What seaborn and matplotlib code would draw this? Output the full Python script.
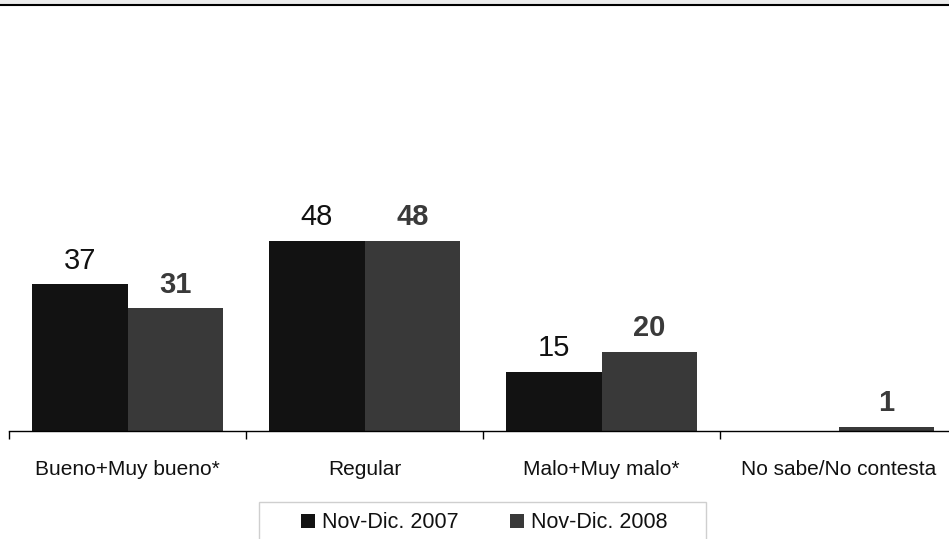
import matplotlib
matplotlib.use("Agg")
import matplotlib.pyplot as plt
import seaborn as sns
import pandas as pd
from matplotlib.patches import Rectangle
from matplotlib.lines import Line2D

categories = ["Bueno+Muy bueno*", "Regular", "Malo+Muy malo*", "No sabe/No contesta"]
series_names = ["Nov-Dic. 2007", "Nov-Dic. 2008"]
values_2007 = [37, 48, 15, 0]
values_2008 = [31, 48, 20, 1]
labels_2007 = ["37", "48", "15", ""]
labels_2008 = ["31", "48", "20", "1"]

colors = ["#121212", "#393939"]

sns.set_theme(style="white")
plt.rcParams["font.family"] = ["Liberation Sans", "DejaVu Sans"]

df = pd.DataFrame({
    "cat": categories * 2,
    "val": values_2007 + values_2008,
    "year": [series_names[0]] * 4 + [series_names[1]] * 4,
})

W, H = 949, 539
fig = plt.figure(figsize=(W / 100, H / 100), dpi=100)
ax = fig.add_axes([9 / W, 1 - 431 / H, 948 / W, 396 / H])

sns.barplot(data=df, x="cat", y="val", hue="year", palette=colors,
            saturation=1, width=0.806, linewidth=0, ax=ax, legend=False,
            errorbar=None)

ax.set_xlim(-0.5, 3.5)
ax.set_ylim(0, 100)
ax.set_xlabel("")
ax.set_ylabel("")
ax.set_yticks([])
for s in ["top", "right", "left"]:
    ax.spines[s].set_visible(False)
ax.spines["bottom"].set_color("black")
ax.spines["bottom"].set_linewidth(1)

ax.set_xticks([-0.5, 0.5, 1.5, 2.5, 3.5])
ax.set_xticklabels([])
ax.tick_params(axis="x", which="major", length=6, width=1, color="black", bottom=True)
ax.set_xticks(range(len(categories)), minor=True)
ax.set_xticklabels(categories, minor=True, fontsize=15, color="#111111")
ax.tick_params(axis="x", which="minor", length=0, pad=21)

# value labels
off = 0.2015
for i, (v, lab) in enumerate(zip(values_2007, labels_2007)):
    if lab:
        ax.annotate(lab, (i - off, v), xytext=(0, 7), textcoords="offset points",
                    ha="center", va="bottom", fontsize=21, color="#111111")
for i, (v, lab) in enumerate(zip(values_2008, labels_2008)):
    if lab:
        ax.annotate(lab, (i + off, v), xytext=(0, 7), textcoords="offset points",
                    ha="center", va="bottom", fontsize=21, color="#3a3a3a",
                    fontweight="bold")

# legend
handles = [Rectangle((0, 0), 1, 1, facecolor=c, edgecolor="none") for c in colors]
leg = fig.legend(handles, series_names, loc="center", ncol=2,
                 bbox_to_anchor=(484 / W, 1 - 523 / H), frameon=False,
                 fontsize=15.5, handlelength=0.65, handleheight=0.65,
                 handletextpad=0.33, columnspacing=2.37)
for t in leg.get_texts():
    t.set_color("#111111")
fig.add_artist(Rectangle((259 / W, 1 - 545 / H), 447 / W, 43 / H,
                         transform=fig.transFigure, facecolor="none",
                         edgecolor="#cfcfcf", linewidth=1))

# top decoration
fig.add_artist(Rectangle((0, 1 - 3.5 / H), 1, 3.5 / H, transform=fig.transFigure,
                         facecolor="#ececec", edgecolor="none"))
fig.add_artist(Line2D([0, 1], [1 - 4.5 / H, 1 - 4.5 / H], transform=fig.transFigure,
                      color="black", linewidth=1.5))

fig.savefig("out.png", dpi=100)
